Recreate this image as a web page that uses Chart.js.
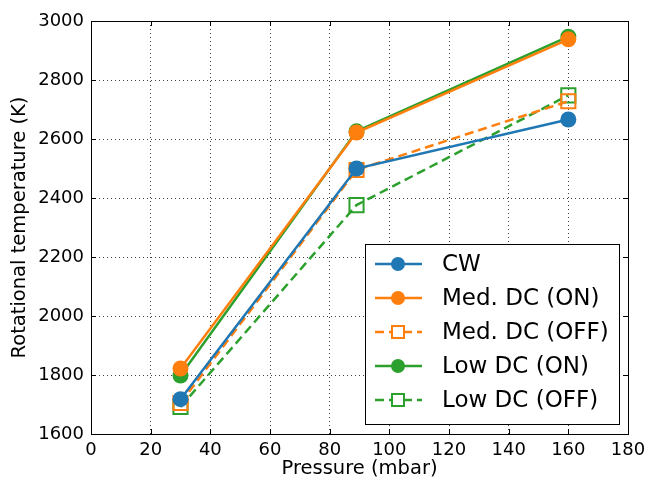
<!DOCTYPE html>
<html>
<head>
<meta charset="utf-8">
<script src="https://cdn.jsdelivr.net/npm/chart.js@4.4.1/dist/chart.umd.min.js"></script>
<style>
html, body { margin: 0; padding: 0; background: #fff; }
</style>
</head>
<body>
<canvas id="canvas" width="652" height="481"></canvas>
<script>
// pressure (mbar) and rotational temperature (K) per condition
var pressure = [30, 89, 160];
var cw = [1718, 2500, 2666];
var medOn = [1822, 2622, 2938];
var medOff = [1705, 2495, 2728];
var lowOn = [1798, 2626, 2947];
var lowOff = [1692, 2376, 2748];

var xTicks = [0, 20, 40, 60, 80, 100, 120, 140, 160, 180];
var yTicks = [1600, 1800, 2000, 2200, 2400, 2600, 2800, 3000];

var blue = "#1f77b4";
var orange = "#ff7f0e";
var green = "#2ca02c";
var font = "'DejaVu Sans', sans-serif";

function points(ys) {
	var out = [];
	for (var i = 0; i < pressure.length; i++) {
		out.push({ x: pressure[i], y: ys[i] });
	}
	return out;
}

function series(label, ys, color, open) {
	return {
		label: label,
		data: points(ys),
		borderColor: color,
		backgroundColor: open ? "rgba(0,0,0,0)" : color,
		borderWidth: 2.5,
		borderDash: open ? [9, 5] : [],
		pointStyle: open ? "rect" : "circle",
		pointRadius: open ? 10 : 8,
		pointBorderWidth: open ? 2 : 0,
		pointBorderColor: color,
		pointBackgroundColor: open ? "rgba(0,0,0,0)" : color,
		pointHoverRadius: open ? 10 : 8,
		tension: 0,
		fill: false
	};
}

// frame and inward tick marks on all four sides
var framePlugin = {
	id: "frame",
	afterDatasetsDraw: function(chart) {
		var ctx = chart.ctx;
		var a = chart.chartArea;
		var xs = chart.scales.x, ys = chart.scales.y;
		ctx.save();
		ctx.setLineDash([]);
		ctx.strokeStyle = "#000";
		ctx.lineWidth = 1;
		ctx.beginPath();
		xTicks.forEach(function(v) {
			var px = Math.round(xs.getPixelForValue(v)) + 0.5;
			ctx.moveTo(px, a.bottom);
			ctx.lineTo(px, a.bottom - 5);
			ctx.moveTo(px, a.top);
			ctx.lineTo(px, a.top + 5);
		});
		yTicks.forEach(function(v) {
			var py = Math.round(ys.getPixelForValue(v)) + 0.5;
			ctx.moveTo(a.left, py);
			ctx.lineTo(a.left + 5, py);
			ctx.moveTo(a.right, py);
			ctx.lineTo(a.right - 5, py);
		});
		ctx.stroke();
		ctx.strokeRect(Math.round(a.left) + 0.5, Math.round(a.top) + 0.5,
			Math.round(a.right - a.left), Math.round(a.bottom - a.top));
		ctx.restore();
	}
};

// legend box in the lower right of the plot area
var legendPlugin = {
	id: "boxLegend",
	afterDraw: function(chart) {
		var ctx = chart.ctx;
		var bx = 365, by = 244, bw = 254, bh = 180;
		ctx.save();
		ctx.fillStyle = "#fff";
		ctx.fillRect(bx, by, bw, bh);
		ctx.strokeStyle = "#000";
		ctx.lineWidth = 1;
		ctx.strokeRect(bx + 0.5, by + 0.5, bw, bh);
		chart.data.datasets.forEach(function(ds, i) {
			var y = 264 + i * 34;
			ctx.strokeStyle = ds.borderColor;
			ctx.lineWidth = ds.borderWidth;
			ctx.setLineDash(ds.borderDash);
			ctx.beginPath();
			ctx.moveTo(375, y);
			ctx.lineTo(422, y);
			ctx.stroke();
			ctx.setLineDash([]);
			if (ds.pointStyle === "circle") {
				ctx.fillStyle = ds.borderColor;
				ctx.beginPath();
				ctx.arc(398, y, 7, 0, Math.PI * 2);
				ctx.fill();
			} else {
				ctx.fillStyle = "#fff";
				ctx.fillRect(392, y - 6, 12, 12);
				ctx.lineWidth = 2;
				ctx.strokeRect(392, y - 6, 12, 12);
			}
			ctx.fillStyle = "#000";
			ctx.font = "23px " + font;
			ctx.textBaseline = "middle";
			ctx.fillText(ds.label, 442, y + 1);
		});
		ctx.restore();
	}
};

var ctx = document.getElementById("canvas").getContext("2d");
window.myLine = new Chart(ctx, {
	type: "line",
	data: {
		datasets: [
			series("CW", cw, blue, false),
			series("Med. DC (ON)", medOn, orange, false),
			series("Med. DC (OFF)", medOff, orange, true),
			series("Low DC (ON)", lowOn, green, false),
			series("Low DC (OFF)", lowOff, green, true)
		]
	},
	options: {
		responsive: false,
		animation: false,
		devicePixelRatio: 1,
		layout: { padding: { left: 0, top: 21, right: 24, bottom: 0 } },
		plugins: {
			legend: { display: false },
			tooltip: { enabled: false }
		},
		scales: {
			x: {
				type: "linear",
				min: 0,
				max: 180,
				afterFit: function(s) { s.height = 47; },
				afterBuildTicks: function(s) {
					s.ticks = xTicks.map(function(v) { return { value: v }; });
				},
				ticks: {
					color: "#000",
					padding: 6,
					font: { family: font, size: 18 },
					maxRotation: 0,
					callback: function(v) { return String(v); }
				},
				grid: { color: "rgba(0,0,0,0.75)", lineWidth: 1, drawTicks: false },
				border: { display: false, dash: [1, 3] },
				title: {
					display: true,
					text: "Pressure (mbar)",
					color: "#000",
					font: { family: font, size: 19.5 },
					padding: { top: 0, bottom: 0 }
				}
			},
			y: {
				type: "linear",
				min: 1600,
				max: 3000,
				afterFit: function(s) { s.width = 91; },
				afterBuildTicks: function(s) {
					s.ticks = yTicks.map(function(v) { return { value: v }; });
				},
				ticks: {
					color: "#000",
					padding: 7,
					font: { family: font, size: 18 },
					callback: function(v) { return String(v); }
				},
				grid: { color: "rgba(0,0,0,0.75)", lineWidth: 1, drawTicks: false },
				border: { display: false, dash: [1, 3] },
				title: {
					display: true,
					text: "Rotational temperature (K)",
					color: "#000",
					font: { family: font, size: 19.5 },
					padding: { top: 8, bottom: 0 }
				}
			}
		}
	},
	plugins: [framePlugin, legendPlugin]
});
</script>
</body>
</html>
